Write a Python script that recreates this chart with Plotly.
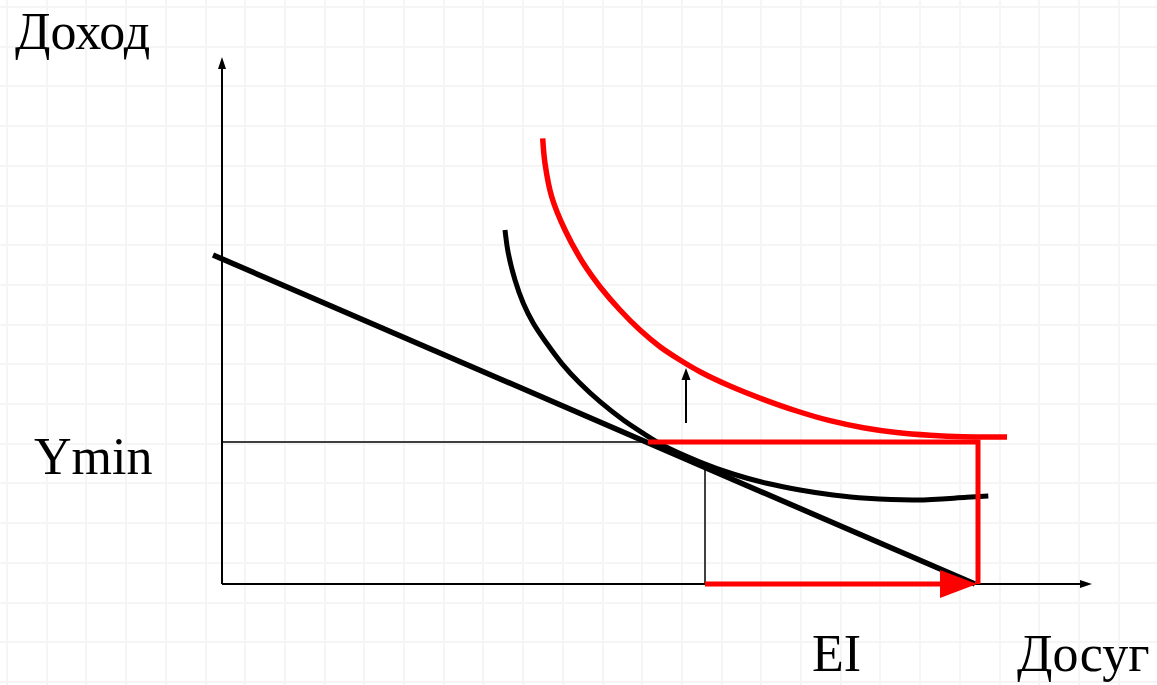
import plotly.graph_objects as go

# ---- data (economic coordinates: x = leisure, y = income) ----
budget_x = [-0.9, 75.3]
budget_y = [32.9, 0.0]

ic_old_x = [28.3, 28.63, 29.3, 30.13, 31.13, 32.47, 33.97, 35.8, 37.8, 40.13, 42.13, 44.13,
            47.8, 51.1, 54.47, 57.8, 61.1, 64.47, 69.47, 74.47, 76.63]
ic_old_y = [35.4, 33.07, 30.4, 28.07, 26.07, 24.07, 22.07, 20.07, 18.23, 16.4, 15.07, 13.85,
            12.2, 11.0, 10.07, 9.4, 8.9, 8.57, 8.4, 8.67, 8.8]

ic_new_x = [32.07, 32.3, 32.97, 34.3, 36.13, 37.8, 39.8, 41.8, 43.8, 45.8, 47.8, 50.8,
            54.13, 57.47, 60.8, 64.13, 67.47, 70.8, 74.1, 78.5]
ic_new_y = [44.57, 42.07, 38.73, 35.4, 32.07, 29.73, 27.4, 25.4, 23.73, 22.4, 21.23, 19.8,
            18.47, 17.3, 16.33, 15.63, 15.15, 14.87, 14.72, 14.7]

y_min = 14.2
tangency_x = 42.6
ei_x = 48.3
ei_y = 11.6
corner_x = 75.6
axis_x_end = 87.0
axis_y_end = 52.7
shift_x = 46.4
shift_y = [16.1, 21.6]

labels = ["Доход", "Ymin", "EI", "Досуг"]
label_x = [-20.9, -19.0, 58.8, 79.3]
label_y = [55.3, 12.8, -6.9, -6.9]

# ---- style ----
BLACK = "#000000"
RED = "#ff0000"
GRID = "#f5f5f5"

fig = go.Figure()


def line(xs, ys, color, width, shape="linear", smoothing=0.5):
    fig.add_trace(go.Scatter(x=xs, y=ys, mode="lines",
                             line=dict(color=color, width=width, shape=shape, smoothing=smoothing),
                             hoverinfo="skip", showlegend=False))


def head(tip_x, tip_y, direction, length, half, color):
    if direction == "up":
        xs = [tip_x, tip_x - half, tip_x + half, tip_x]
        ys = [tip_y, tip_y - length, tip_y - length, tip_y]
    else:  # right
        xs = [tip_x, tip_x - length, tip_x - length, tip_x]
        ys = [tip_y, tip_y + half, tip_y - half, tip_y]
    fig.add_trace(go.Scatter(x=xs, y=ys, mode="lines", fill="toself", fillcolor=color,
                             line=dict(color=color, width=0), hoverinfo="skip", showlegend=False))


# axes
line([0, 0], [0, axis_y_end - 1.0], BLACK, 2)
head(0, axis_y_end, "up", 1.2, 0.4, BLACK)
line([0, axis_x_end - 1.0], [0, 0], BLACK, 2)
head(axis_x_end, 0, "right", 1.2, 0.4, BLACK)

# guide lines
line([0, tangency_x], [y_min, y_min], BLACK, 1.5)
line([ei_x, ei_x], [0, ei_y], BLACK, 1.5)

# budget line and indifference curves
line(budget_x, budget_y, BLACK, 5.5)
line(ic_old_x, ic_old_y, BLACK, 5, "spline", 1.0)
line(ic_new_x, ic_new_y, RED, 5.5, "spline", 1.0)

# red path
line([tangency_x, corner_x, corner_x], [y_min, y_min, 0], RED, 5)
line([ei_x, corner_x - 3.6], [0, 0], RED, 5)
head(corner_x - 0.1, 0, "right", 3.7, 1.4, RED)

# shift arrow
line([shift_x, shift_x], [shift_y[0], shift_y[1] - 1.0], BLACK, 2)
head(shift_x, shift_y[1], "up", 1.2, 0.45, BLACK)

for t, x, y in zip(labels, label_x, label_y):
    fig.add_annotation(x=x, y=y, xref="x", yref="y", text=t, showarrow=False,
                       xanchor="left", yanchor="middle",
                       font=dict(family="Liberation Serif", size=52, color=BLACK))

fig.update_layout(
    template="none",
    width=1157, height=685,
    margin=dict(l=0, r=0, t=0, b=0),
    paper_bgcolor="white", plot_bgcolor="white",
    showlegend=False,
    xaxis=dict(range=[-22.2, 93.5], showgrid=True, gridcolor=GRID, gridwidth=2,
               tick0=-21.5, dtick=3.97, showticklabels=False, ticks="",
               zeroline=False, showline=False, fixedrange=True),
    yaxis=dict(range=[-10.1, 58.4], showgrid=True, gridcolor=GRID, gridwidth=2,
               tick0=2.12, dtick=3.97, showticklabels=False, ticks="",
               zeroline=False, showline=False, fixedrange=True),
)

fig.write_html("out.html", config={"displayModeBar": False},
               post_script="document.body.style.margin='0';document.body.style.overflow='hidden';")
